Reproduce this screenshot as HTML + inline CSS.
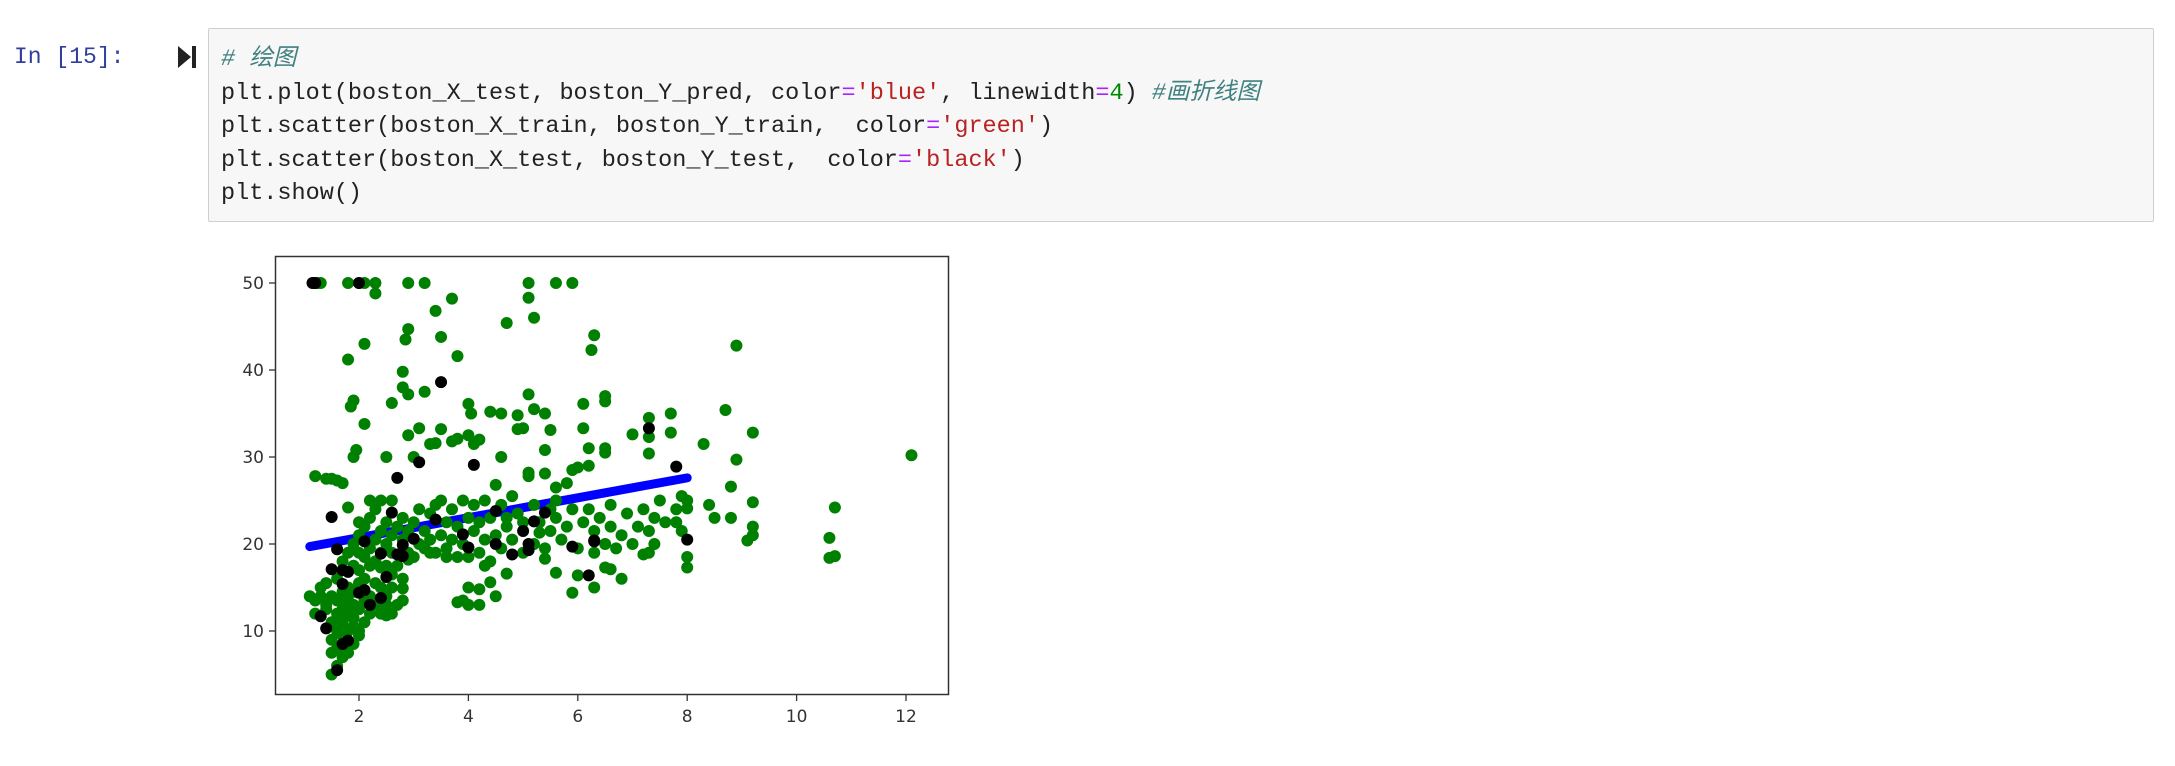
<!DOCTYPE html>
<html><head><meta charset="utf-8">
<style>
body{margin:0;width:2175px;height:766px;background:#fff;overflow:hidden;position:relative;font-family:"Liberation Mono","Noto Sans CJK SC",monospace;}
.prompt{position:absolute;left:14px;top:44px;color:#303F9F;font-size:23px;}
.run{position:absolute;left:178px;top:46px;width:0;height:0;border-top:11px solid transparent;border-bottom:11px solid transparent;border-left:13px solid #222;}
.runbar{position:absolute;left:192px;top:46px;width:4px;height:22px;background:#222;}
.cell{position:absolute;left:208px;top:28px;width:1944px;height:192px;background:#f7f7f7;border:1px solid #cfcfcf;border-radius:2px;}
pre{margin:0;position:absolute;left:12px;top:14px;font-family:"Liberation Mono","Noto Sans CJK SC",monospace;font-size:23.5px;line-height:33.5px;color:#222;}
.c{color:#408080;font-style:italic}.s{color:#BA2121}.o{color:#AA22FF}.n{color:#008800}
svg{position:absolute;left:0;top:0}
</style></head><body>
<div class="prompt">In&nbsp;[15]:</div>
<div class="run"></div><div class="runbar"></div>
<div class="cell"><pre><span class="c"># 绘图</span>
plt.plot(boston_X_test, boston_Y_pred, color<span class="o">=</span><span class="s">'blue'</span>, linewidth<span class="o">=</span><span class="n">4</span>) <span class="c">#画折线图</span>
plt.scatter(boston_X_train, boston_Y_train,  color<span class="o">=</span><span class="s">'green'</span>)
plt.scatter(boston_X_test, boston_Y_test,  color<span class="o">=</span><span class="s">'black'</span>)
plt.show()</pre></div>
<svg id="chart" width="2175" height="766"></svg>
<script>
const trainX=[1.2,1.3,1.8,2.0,2.1,2.3,2.9,3.2,5.1,5.6,5.9,1.25,2.3,5.1,3.7,3.4,5.2,4.7,2.9,2.85,3.5,2.1,6.3,6.25,8.9,3.8,1.8,2.8,2.8,2.9,3.2,1.9,1.85,2.6,2.1,1.95,1.9,2.5,3.0,2.9,3.1,3.3,3.4,3.5,3.7,3.8,4.0,4.05,4.0,4.1,4.2,4.4,4.6,4.6,4.9,5.1,5.2,5.4,5.0,4.9,5.4,5.5,6.1,6.5,6.5,6.1,6.2,6.5,6.5,7.0,7.3,7.3,7.3,7.7,7.7,8.7,8.3,9.2,8.9,8.8,12.1,10.7,10.6,10.6,10.7,9.2,9.2,9.1,9.2,8.8,8.5,8.4,8.0,7.9,7.8,8.0,8.0,7.2,7.3,6.8,6.6,6.5,6.3,6.0,5.9,5.6,5.4,5.3,5.5,5.6,5.8,5.9,6.0,6.2,5.1,5.1,5.4,4.7,4.5,1.2,1.4,1.5,1.6,1.7,1.8,2.0,2.2,2.4,2.6,4.7,4.2,4.0,3.9,3.8,4.0,4.2,4.4,4.5,4.3,4.0,3.6,3.3,2.9,2.8,2.8,2.5,2.5,2.6,2.4,
1.1,1.2,1.2,1.3,1.3,1.4,1.4,1.4,1.5,1.5,1.5,1.5,1.5,1.6,1.6,1.6,1.6,1.6,1.6,1.7,1.7,1.7,1.7,1.7,1.7,1.8,1.8,1.8,1.8,1.8,1.8,1.9,1.9,1.9,1.9,1.9,1.9,1.9,2.0,2.0,2.0,2.0,2.0,2.0,2.0,2.1,2.1,2.1,2.1,2.1,2.2,2.2,2.2,2.2,2.2,2.3,2.3,2.3,2.3,2.3,2.4,2.4,2.4,2.4,2.5,2.5,2.5,2.5,2.6,2.6,2.6,2.6,2.7,2.7,2.7,2.8,2.8,2.8,2.9,2.9,3.0,3.0,3.1,3.1,3.2,3.2,3.3,3.3,3.4,3.4,3.5,3.5,3.6,3.6,3.7,3.7,3.8,3.8,3.9,3.9,4.0,4.1,4.1,4.2,4.2,4.3,4.3,4.4,4.4,4.5,4.6,4.6,4.7,4.8,4.8,4.9,5.0,5.0,5.2,5.2,5.3,5.4,5.5,5.6,5.6,5.7,5.8,5.9,6.0,6.1,6.2,6.3,6.3,6.4,6.5,6.6,6.6,6.7,6.8,6.9,7.0,7.1,7.2,7.3,7.4,7.4,7.5,7.6,7.8,7.9,8.0];
const trainY=[50,50,50,50,50,50,50,50,50,50,50,50,48.8,48.3,48.2,46.8,46,45.4,44.7,43.5,43.8,43,44,42.3,42.8,41.6,41.2,39.8,38,37.2,37.5,36.5,35.8,36.2,33.8,30.8,30,30,30,32.5,33.3,31.5,31.6,33.2,31.8,32.1,36.1,35,32.5,31.5,32,35.2,35,30,34.8,37.2,35.5,35,33.3,33.2,30.8,33.1,36.1,37,36.4,33.3,31,31,30.5,32.6,34.5,32.3,30.4,35,32.8,35.4,31.5,32.8,29.7,26.6,30.2,24.2,20.7,18.4,18.6,24.8,22,20.4,21,23,23,24.5,24.1,25.5,22.5,18.5,17.3,18.8,19,16,17.1,17.3,15,16.4,14.4,16.7,18.3,21.3,24,26.5,27,28.5,28.8,29,28.2,27.8,28.1,23,26.8,27.8,27.5,27.5,27.3,27,24.2,22.5,25,25,25,16.6,13,15,13.5,13.3,13,14.8,15.6,14,17.5,18.5,18.5,19,18.2,14.9,13.5,11.8,13,15,17.3,
14,13.5,12,15,14,13,12.5,15.5,14,11,9,7.5,5,6,8,10,12,13.5,16,7,9.5,11,12.5,14.5,18,7.5,10,12,13.5,15,19,8.5,10.5,11.5,13,14.5,17.5,20,9.5,10,12.5,15.5,17,19,21,11,13.5,16,18.5,22,12,14,17.5,19.5,23,13,15.5,18,20.5,24,12,15,19,21.5,14,17.5,20,22.5,12,16.5,19,21,13,17.5,22,16,20.5,23,19,21.5,18.5,22.5,20,24,19.5,21.5,23.5,20.5,19,24.5,21,25,19.5,22.5,20.5,24,18.5,22,25,20,23,21.5,24.5,19,22.5,25,20.5,18,23,21,24.5,19.5,22,25.5,20.5,23.5,19,22.5,20,24.5,22.5,19.5,21.5,25,23,20.5,22,24,19.5,22.5,24,19,21.5,23,20,22,24.5,19.5,21,23.5,20,22,24,21.5,23,20,25,22.5,24,21.5,25];
const testX=[1.15,1.2,2.0,3.5,3.1,4.1,2.7,7.8,7.3,1.5,2.6,3.4,4.5,5.2,5.4,1.6,2.1,3.0,3.9,4.0,4.5,5.0,5.1,5.1,4.8,5.9,6.3,6.3,8.0,6.2,2.8,2.8,2.7,2.4,2.5,1.5,1.7,1.8,1.7,2.0,2.1,2.2,2.4,1.3,1.4,1.7,1.8,1.6];
const testY=[50,50,50,38.6,29.4,29.1,27.6,28.9,33.3,23.1,23.6,22.8,23.8,22.6,23.6,19.4,20.3,20.6,21.1,19.6,20,21.5,19.3,20,18.8,19.7,20.3,20.4,20.5,16.4,19.9,18.6,18.8,18.9,16.2,17.1,17,16.8,15.4,14.4,14.7,13,13.8,11.7,10.3,8.5,8.9,5.5];
const predX=[1.1,2.0,3.0,4.0,5.0,6.0,7.0,8.0];
const predY=[19.7,20.73,21.88,23.02,24.17,25.31,26.46,27.6];
const xTicks=[2,4,6,8,10,12];
const yTicks=[10,20,30,40,50];
const NS='http://www.w3.org/2000/svg';
const svg=document.getElementById('chart');
const X=v=>249.6+v*54.7, Y=v=>718-v*8.7;
function mk(t,a){const e=document.createElementNS(NS,t);for(const k in a)e.setAttribute(k,a[k]);svg.appendChild(e);return e;}
const fr=mk('rect',{x:275.5,y:256.5,width:673,height:438,fill:'#fff',stroke:'#333','stroke-width':1.5});


xTicks.forEach(t=>{
 const l=mk('line',{x1:X(t),x2:X(t),y1:695,y2:701,stroke:'#333','stroke-width':1.3});
 
 
 const tx=mk('text',{x:X(t),y:722,'text-anchor':'middle','font-size':17,fill:'#333','font-family':'DejaVu Sans, sans-serif'});
 tx.textContent=t;
 
 
});
yTicks.forEach(t=>{
 const l=mk('line',{x1:269,x2:275.5,y1:Y(t),y2:Y(t),stroke:'#333','stroke-width':1.3});
 
 
 const tx=mk('text',{x:264,y:Y(t)+6,'text-anchor':'end','font-size':17,fill:'#333','font-family':'DejaVu Sans, sans-serif'});
 tx.textContent=t;
 
 
});
const pl=mk('polyline',{points:predX.map((v,i)=>X(v)+','+Y(predY[i])).join(' '),fill:'none',stroke:'#0000ff','stroke-width':9,'stroke-linecap':'round'});


trainX.forEach((v,i)=>{
 const c=mk('circle',{cx:X(v),cy:Y(trainY[i]),r:6,fill:'#008000'});
 
 
});
testX.forEach((v,i)=>{
 const c=mk('circle',{cx:X(v),cy:Y(testY[i]),r:6,fill:'#000'});
 
 
});
</script>
</body></html>
